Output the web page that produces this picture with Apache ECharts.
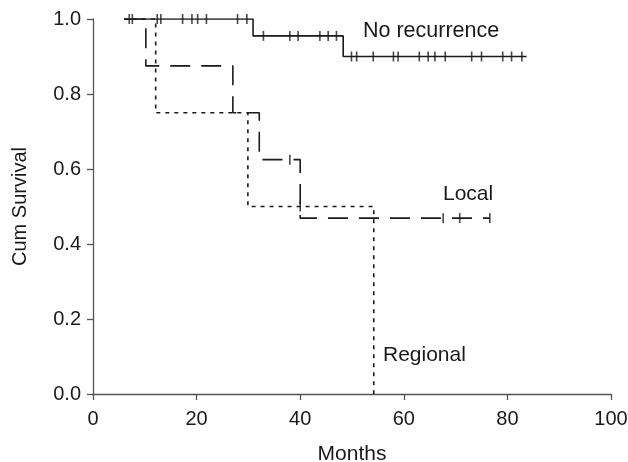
<!DOCTYPE html>
<html>
<head>
    <meta charset="utf-8">
    <title>Cum Survival</title>
    <script src="https://cdn.jsdelivr.net/npm/echarts@6/dist/echarts.min.js"></script>
</head>
<body style="margin:0">
<div id="main" style="width: 628px;height: 462px;"></div>
<script type="text/javascript">
    // step curves: [months, cum survival]
    var noRecurrence = [[6, 1], [30.9, 0.955], [48.3, 0.9], [83.7, 0.9]];
    var local = [[6, 1], [10.2, 0.875], [27.0, 0.75], [32.1, 0.625], [40.0, 0.469], [76.6, 0.469]];
    var regional = [[6, 1], [12.1, 0.75], [29.9, 0.5], [54.2, 0]];

    // censored cases
    var noRecurrenceCensored = [
        [7.0, 1], [7.6, 1], [12.4, 1], [13.1, 1], [17.3, 1], [19.1, 1], [20.2, 1], [21.9, 1], [27.9, 1], [29.7, 1],
        [32.9, 0.955], [38.0, 0.955], [39.6, 0.955], [43.8, 0.955], [45.4, 0.955], [47.0, 0.955],
        [49.9, 0.9], [50.9, 0.9], [54.1, 0.9], [58.0, 0.9], [58.9, 0.9], [63.0, 0.9], [64.7, 0.9],
        [66.0, 0.9], [68.0, 0.9], [73.1, 0.9], [75.0, 0.9], [79.1, 0.9], [80.8, 0.9], [82.8, 0.9]
    ];
    var localCensored = [[38.0, 0.625], [67.6, 0.469], [70.8, 0.469], [76.6, 0.469]];
    var regionalCensored = [[40.0, 0.5]];

    var xTicks = [0, 20, 40, 60, 80, 100];
    var yTicks = [0, 0.2, 0.4, 0.6, 0.8, 1.0];

    var ink = '#1a1a1a';
    var font = 'Liberation Sans';

    function censor(data) {
        return {
            type: 'scatter',
            symbol: 'rect',
            symbolSize: [1.6, 10],
            itemStyle: {color: ink},
            silent: true,
            z: 3,
            data: data
        };
    }

    var chart = echarts.init(document.getElementById('main'));

    var option = {
        animation: false,
        backgroundColor: '#fff',
        grid: {left: 93, right: 17, top: 19, bottom: 68, containLabel: false, outerBoundsMode: 'none'},
        xAxis: {
            type: 'value',
            min: xTicks[0],
            max: xTicks[xTicks.length - 1],
            interval: 20,
            name: 'Months',
            nameLocation: 'middle',
            nameGap: 50,
            nameTextStyle: {color: ink, fontSize: 21, fontFamily: font},
            axisLine: {show: true, lineStyle: {color: '#555', width: 1.3}},
            axisTick: {show: true, length: 6, lineStyle: {color: '#555', width: 1.3}},
            axisLabel: {color: ink, fontSize: 20, fontFamily: font, margin: 15},
            splitLine: {show: false}
        },
        yAxis: {
            type: 'value',
            min: yTicks[0],
            max: yTicks[yTicks.length - 1],
            interval: 0.2,
            name: 'Cum Survival',
            nameLocation: 'middle',
            nameGap: 63,
            nameTextStyle: {color: ink, fontSize: 20, fontFamily: font},
            axisLine: {show: true, lineStyle: {color: '#555', width: 1.3}},
            axisTick: {show: true, length: 6, lineStyle: {color: '#555', width: 1.3}},
            axisLabel: {
                color: ink, fontSize: 20, fontFamily: font, margin: 12,
                formatter: function (v) { return v.toFixed(1); }
            },
            splitLine: {show: false}
        },
        graphic: [
            {type: 'text', left: 363, top: 20, style: {text: 'No recurrence', fill: ink, font: '21.5px "Liberation Sans"'}},
            {type: 'text', left: 443, top: 184, style: {text: 'Local', fill: ink, font: '21px "Liberation Sans"'}},
            {type: 'text', left: 383, top: 345, style: {text: 'Regional', fill: ink, font: '21px "Liberation Sans"'}}
        ],
        series: [
            {
                type: 'line', step: 'end', showSymbol: false, silent: true, z: 4,
                lineStyle: {color: ink, width: 1.6},
                data: noRecurrence
            },
            {
                type: 'line', step: 'end', showSymbol: false, silent: true, z: 2,
                lineStyle: {color: ink, width: 1.6, type: [20, 11]},
                data: local
            },
            {
                type: 'line', step: 'end', showSymbol: false, silent: true, z: 2,
                lineStyle: {color: ink, width: 1.6, type: [4, 5]},
                data: regional
            },
            censor(noRecurrenceCensored),
            censor(localCensored),
            censor(regionalCensored)
        ]
    };

    chart.setOption(option);
</script>
</body>
</html>
